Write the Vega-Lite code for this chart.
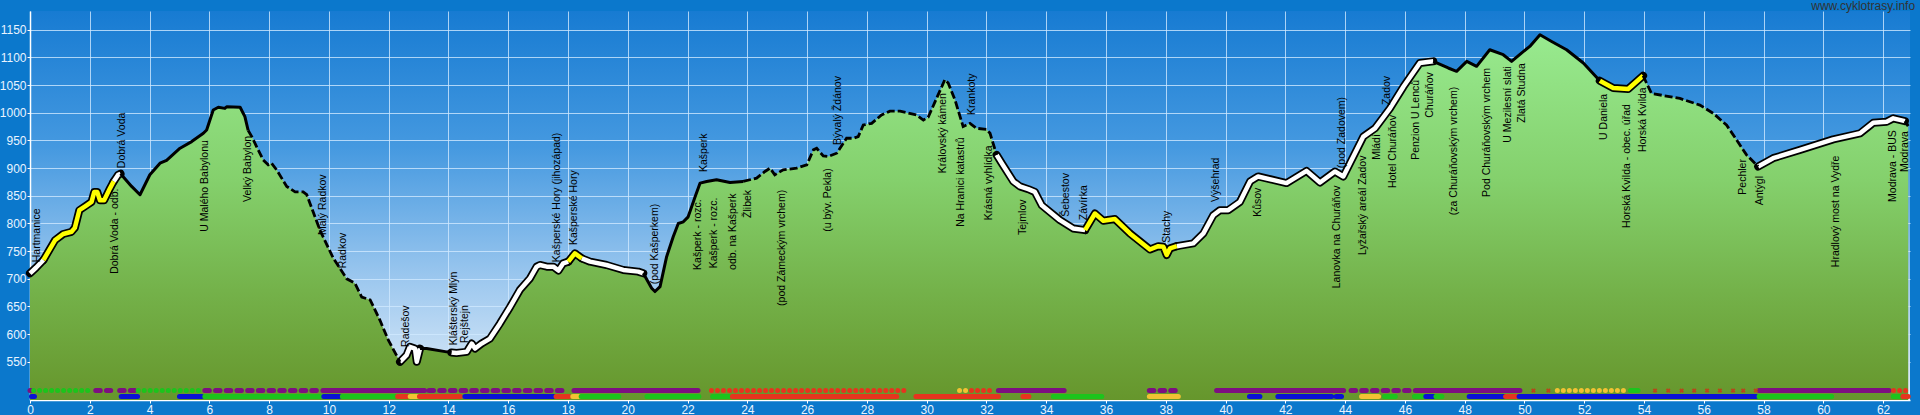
{
 "$schema": "https://vega.github.io/schema/vega-lite/v6.json",
 "width": 1880,
 "height": 389,
 "autosize": {"type": "none"},
 "padding": {"left": 30, "top": 11, "right": 10, "bottom": 15},
 "background": "#0b78cc",
 "config": {
  "font": "Liberation Sans",
  "view": {"stroke": null, "fill": {"gradient": "linear", "x1": 0, "y1": 0, "x2": 0, "y2": 1, "stops": [{"offset": 0, "color": "#177bd2"}, {"offset": 0.35, "color": "#4599e0"}, {"offset": 0.7, "color": "#9fc9ef"}, {"offset": 1, "color": "#e2eef9"}]}},
  "axis": {"domainColor": "#ffffff", "domainWidth": 1.5, "tickColor": "#ffffff", "tickSize": 3, "labelColor": "#e8f4ff", "labelFontSize": 12, "labelFont": "Liberation Sans", "gridColor": "#d0e8ff", "gridOpacity": 0.8, "gridWidth": 1, "title": null, "labelOverlap": false, "labelFlush": false, "format": "d"}
 },
 "datasets": {
  "profile": [
   {"k":0.00,"e":710,"s":1,"t":"w"},{"k":0.20,"e":720,"s":1,"t":"w"},{"k":0.45,"e":734,"s":1,"t":"w"},
   {"k":0.45,"e":734,"s":2,"t":"y"},{"k":0.84,"e":770,"s":2,"t":"y"},{"k":1.11,"e":781,"s":2,"t":"y"},{"k":1.39,"e":785,"s":2,"t":"y"},{"k":1.50,"e":792,"s":2,"t":"y"},{"k":1.65,"e":824,"s":2,"t":"y"},{"k":1.87,"e":832,"s":2,"t":"y"},{"k":2.06,"e":839,"s":2,"t":"y"},{"k":2.15,"e":857,"s":2,"t":"y"},{"k":2.25,"e":857,"s":2,"t":"y"},{"k":2.34,"e":842,"s":2,"t":"y"},{"k":2.48,"e":842,"s":2,"t":"y"},{"k":2.68,"e":864,"s":2,"t":"y"},{"k":2.80,"e":876,"s":2,"t":"y"},
   {"k":2.80,"e":876,"s":3,"t":"w"},{"k":2.95,"e":888,"s":3,"t":"w"},{"k":3.03,"e":890,"s":3,"t":"w"},
   {"k":3.03,"e":890,"s":4,"t":"s"},{"k":3.40,"e":867,"s":4,"t":"s"},{"k":3.68,"e":852,"s":4,"t":"s"},{"k":4.01,"e":888,"s":4,"t":"s"},{"k":4.35,"e":909,"s":4,"t":"s"},{"k":4.57,"e":914,"s":4,"t":"s"},{"k":5.02,"e":936,"s":4,"t":"s"},{"k":5.41,"e":948,"s":4,"t":"s"},{"k":5.80,"e":963,"s":4,"t":"s"},{"k":5.91,"e":969,"s":4,"t":"s"},{"k":6.13,"e":1005,"s":4,"t":"s"},{"k":6.30,"e":1010,"s":4,"t":"s"},{"k":6.52,"e":1008,"s":4,"t":"s"},{"k":6.58,"e":1011,"s":4,"t":"s"},{"k":7.03,"e":1010,"s":4,"t":"s"},{"k":7.19,"e":993,"s":4,"t":"s"},{"k":7.30,"e":968,"s":4,"t":"s"},
   {"k":7.30,"e":968,"s":5,"t":"d"},{"k":7.42,"e":957,"s":5,"t":"d"},{"k":7.58,"e":939,"s":5,"t":"d"},{"k":7.80,"e":915,"s":5,"t":"d"},{"k":7.97,"e":906,"s":5,"t":"d"},{"k":8.08,"e":909,"s":5,"t":"d"},{"k":8.25,"e":897,"s":5,"t":"d"},{"k":8.59,"e":867,"s":5,"t":"d"},{"k":8.87,"e":857,"s":5,"t":"d"},{"k":9.14,"e":857,"s":5,"t":"d"},{"k":9.26,"e":852,"s":5,"t":"d"},{"k":9.70,"e":788,"s":5,"t":"d"},{"k":10.15,"e":737,"s":5,"t":"d"},{"k":10.60,"e":700,"s":5,"t":"d"},{"k":10.87,"e":692,"s":5,"t":"d"},{"k":11.10,"e":667,"s":5,"t":"d"},{"k":11.38,"e":662,"s":5,"t":"d"},{"k":11.71,"e":625,"s":5,"t":"d"},{"k":11.99,"e":589,"s":5,"t":"d"},{"k":12.38,"e":550,"s":5,"t":"d"},
   {"k":12.38,"e":550,"s":6,"t":"w"},{"k":12.60,"e":562,"s":6,"t":"w"},{"k":12.71,"e":577,"s":6,"t":"w"},{"k":12.88,"e":574,"s":6,"t":"w"},{"k":12.94,"e":550,"s":6,"t":"w"},{"k":13.05,"e":574,"s":6,"t":"w"},
   {"k":13.05,"e":574,"s":7,"t":"s"},{"k":13.27,"e":574,"s":7,"t":"s"},{"k":13.94,"e":568,"s":7,"t":"s"},{"k":14.10,"e":567,"s":7,"t":"s"},
   {"k":14.10,"e":567,"s":8,"t":"w"},{"k":14.27,"e":566,"s":8,"t":"w"},{"k":14.61,"e":568,"s":8,"t":"w"},{"k":14.78,"e":583,"s":8,"t":"w"},{"k":14.89,"e":574,"s":8,"t":"w"},{"k":15.11,"e":583,"s":8,"t":"w"},{"k":15.39,"e":592,"s":8,"t":"w"},{"k":15.72,"e":619,"s":8,"t":"w"},{"k":16.06,"e":649,"s":8,"t":"w"},{"k":16.39,"e":680,"s":8,"t":"w"},{"k":16.73,"e":701,"s":8,"t":"w"},{"k":16.95,"e":722,"s":8,"t":"w"},{"k":17.06,"e":725,"s":8,"t":"w"},{"k":17.29,"e":722,"s":8,"t":"w"},{"k":17.51,"e":722,"s":8,"t":"w"},{"k":17.68,"e":715,"s":8,"t":"w"},{"k":17.84,"e":728,"s":8,"t":"w"},{"k":18.01,"e":731,"s":8,"t":"w"},
   {"k":18.01,"e":731,"s":9,"t":"y"},{"k":18.23,"e":746,"s":9,"t":"y"},{"k":18.46,"e":737,"s":9,"t":"y"},
   {"k":18.46,"e":737,"s":10,"t":"w"},{"k":18.74,"e":731,"s":10,"t":"w"},{"k":19.29,"e":725,"s":10,"t":"w"},{"k":19.85,"e":716,"s":10,"t":"w"},{"k":20.35,"e":713,"s":10,"t":"w"},{"k":20.52,"e":710,"s":10,"t":"w"},
   {"k":20.52,"e":710,"s":11,"t":"s"},{"k":20.80,"e":683,"s":11,"t":"s"},{"k":20.91,"e":677,"s":11,"t":"s"},{"k":21.08,"e":686,"s":11,"t":"s"},{"k":21.30,"e":740,"s":11,"t":"s"},{"k":21.52,"e":776,"s":11,"t":"s"},{"k":21.69,"e":800,"s":11,"t":"s"},{"k":21.86,"e":803,"s":11,"t":"s"},{"k":22.02,"e":812,"s":11,"t":"s"},{"k":22.25,"e":848,"s":11,"t":"s"},{"k":22.42,"e":873,"s":11,"t":"s"},{"k":22.64,"e":876,"s":11,"t":"s"},{"k":22.97,"e":879,"s":11,"t":"s"},{"k":23.42,"e":874,"s":11,"t":"s"},{"k":23.86,"e":876,"s":11,"t":"s"},
   {"k":23.86,"e":876,"s":12,"t":"d"},{"k":24.31,"e":882,"s":12,"t":"d"},{"k":24.59,"e":894,"s":12,"t":"d"},{"k":24.76,"e":900,"s":12,"t":"d"},{"k":24.92,"e":888,"s":12,"t":"d"},{"k":25.20,"e":897,"s":12,"t":"d"},{"k":25.65,"e":900,"s":12,"t":"d"},{"k":25.99,"e":906,"s":12,"t":"d"},{"k":26.21,"e":933,"s":12,"t":"d"},{"k":26.32,"e":936,"s":12,"t":"d"},{"k":26.54,"e":922,"s":12,"t":"d"},{"k":26.71,"e":921,"s":12,"t":"d"},{"k":26.99,"e":927,"s":12,"t":"d"},{"k":27.32,"e":954,"s":12,"t":"d"},{"k":27.55,"e":954,"s":12,"t":"d"},{"k":27.71,"e":957,"s":12,"t":"d"},{"k":27.88,"e":978,"s":12,"t":"d"},{"k":28.16,"e":981,"s":12,"t":"d"},{"k":28.49,"e":996,"s":12,"t":"d"},{"k":28.77,"e":1003,"s":12,"t":"d"},{"k":29.11,"e":1003,"s":12,"t":"d"},{"k":29.66,"e":996,"s":12,"t":"d"},{"k":29.89,"e":987,"s":12,"t":"d"},{"k":30.05,"e":992,"s":12,"t":"d"},{"k":30.33,"e":1026,"s":12,"t":"d"},{"k":30.61,"e":1060,"s":12,"t":"d"},{"k":30.72,"e":1054,"s":12,"t":"d"},{"k":30.95,"e":1023,"s":12,"t":"d"},{"k":31.22,"e":975,"s":12,"t":"d"},{"k":31.45,"e":981,"s":12,"t":"d"},{"k":31.67,"e":972,"s":12,"t":"d"},{"k":32.01,"e":970,"s":12,"t":"d"},{"k":32.12,"e":963,"s":12,"t":"d"},{"k":32.34,"e":924,"s":12,"t":"d"},
   {"k":32.34,"e":924,"s":13,"t":"w"},{"k":32.51,"e":909,"s":13,"t":"w"},{"k":32.90,"e":876,"s":13,"t":"w"},{"k":33.12,"e":867,"s":13,"t":"w"},{"k":33.40,"e":862,"s":13,"t":"w"},{"k":33.62,"e":857,"s":13,"t":"w"},{"k":33.85,"e":833,"s":13,"t":"w"},{"k":34.46,"e":806,"s":13,"t":"w"},{"k":34.90,"e":791,"s":13,"t":"w"},{"k":35.30,"e":788,"s":13,"t":"w"},
   {"k":35.30,"e":788,"s":14,"t":"y"},{"k":35.63,"e":818,"s":14,"t":"y"},{"k":35.91,"e":805,"s":14,"t":"y"},{"k":36.30,"e":808,"s":14,"t":"y"},{"k":36.80,"e":782,"s":14,"t":"y"},{"k":37.47,"e":753,"s":14,"t":"y"},{"k":37.75,"e":759,"s":14,"t":"y"},{"k":37.92,"e":758,"s":14,"t":"y"},{"k":38.03,"e":743,"s":14,"t":"y"},{"k":38.14,"e":755,"s":14,"t":"y"},{"k":38.37,"e":759,"s":14,"t":"y"},
   {"k":38.37,"e":759,"s":15,"t":"w"},{"k":38.92,"e":764,"s":15,"t":"w"},{"k":39.26,"e":782,"s":15,"t":"w"},{"k":39.59,"e":815,"s":15,"t":"w"},{"k":39.81,"e":824,"s":15,"t":"w"},{"k":40.09,"e":824,"s":15,"t":"w"},{"k":40.48,"e":839,"s":15,"t":"w"},{"k":40.82,"e":876,"s":15,"t":"w"},{"k":41.09,"e":885,"s":15,"t":"w"},{"k":42.04,"e":873,"s":15,"t":"w"},{"k":42.71,"e":895,"s":15,"t":"w"},{"k":43.16,"e":874,"s":15,"t":"w"},{"k":43.66,"e":894,"s":15,"t":"w"},{"k":43.94,"e":885,"s":15,"t":"w"},{"k":44.61,"e":957,"s":15,"t":"w"},{"k":45.00,"e":972,"s":15,"t":"w"},{"k":45.50,"e":1008,"s":15,"t":"w"},{"k":45.95,"e":1047,"s":15,"t":"w"},{"k":46.50,"e":1090,"s":15,"t":"w"},{"k":46.95,"e":1093,"s":15,"t":"w"},
   {"k":46.95,"e":1093,"s":16,"t":"s"},{"k":47.45,"e":1081,"s":16,"t":"s"},{"k":47.73,"e":1075,"s":16,"t":"s"},{"k":48.07,"e":1093,"s":16,"t":"s"},{"k":48.40,"e":1084,"s":16,"t":"s"},{"k":48.84,"e":1114,"s":16,"t":"s"},{"k":49.29,"e":1105,"s":16,"t":"s"},{"k":49.57,"e":1093,"s":16,"t":"s"},{"k":49.90,"e":1108,"s":16,"t":"s"},{"k":50.18,"e":1120,"s":16,"t":"s"},{"k":50.52,"e":1141,"s":16,"t":"s"},{"k":50.91,"e":1129,"s":16,"t":"s"},{"k":51.41,"e":1114,"s":16,"t":"s"},{"k":51.97,"e":1090,"s":16,"t":"s"},{"k":52.52,"e":1058,"s":16,"t":"s"},
   {"k":52.52,"e":1058,"s":17,"t":"y"},{"k":52.97,"e":1045,"s":17,"t":"y"},{"k":53.47,"e":1043,"s":17,"t":"y"},{"k":53.97,"e":1067,"s":17,"t":"y"},
   {"k":53.97,"e":1067,"s":18,"t":"d"},{"k":54.25,"e":1035,"s":18,"t":"d"},{"k":55.20,"e":1026,"s":18,"t":"d"},{"k":55.87,"e":1014,"s":18,"t":"d"},{"k":56.32,"e":999,"s":18,"t":"d"},{"k":56.76,"e":978,"s":18,"t":"d"},{"k":57.10,"e":951,"s":18,"t":"d"},{"k":57.43,"e":924,"s":18,"t":"d"},{"k":57.82,"e":903,"s":18,"t":"d"},
   {"k":57.82,"e":903,"s":19,"t":"w"},{"k":58.32,"e":918,"s":19,"t":"w"},{"k":59.22,"e":933,"s":19,"t":"w"},{"k":60.33,"e":952,"s":19,"t":"w"},{"k":61.23,"e":963,"s":19,"t":"w"},{"k":61.67,"e":982,"s":19,"t":"w"},{"k":62.12,"e":984,"s":19,"t":"w"},{"k":62.34,"e":990,"s":19,"t":"w"},{"k":62.73,"e":985,"s":19,"t":"w"},
   {"k":62.73,"e":985,"s":20,"t":"s"},{"k":62.84,"e":976,"s":20,"t":"s"}
  ],
  "labels": [
   {"k":0.23,"ly":730,"n":"Hartmanice"},{"k":2.84,"ly":709,"n":"Dobrá Voda - odb."},{"k":3.08,"ly":900,"n":"Dobrá Voda"},{"k":5.85,"ly":785,"n":"U Malého Babylonu"},{"k":7.29,"ly":839,"n":"Velký Babylon"},{"k":9.80,"ly":779,"n":"Malý Radkov"},{"k":10.47,"ly":719,"n":"Radkov"},{"k":12.58,"ly":577,"n":"Radešov"},{"k":14.19,"ly":580,"n":"Klášterský Mlýn"},{"k":14.55,"ly":584,"n":"Rejštejn"},{"k":17.63,"ly":730,"n":"Kašperské Hory (jihozápad)"},{"k":18.20,"ly":761,"n":"Kašperské Hory"},{"k":20.91,"ly":690,"n":"(pod Kašperkem)"},{"k":22.55,"ly":893,"n":"Kašperk"},{"k":22.35,"ly":716,"n":"Kašperk - rozc."},{"k":22.88,"ly":719,"n":"Kašperk - rozc."},{"k":23.52,"ly":716,"n":"odb. na Kašperk"},{"k":24.02,"ly":810,"n":"Žlibek"},{"k":25.16,"ly":651,"n":"(pod Zámeckým vrchem)"},{"k":26.70,"ly":785,"n":"(u býv. Pekla)"},{"k":27.03,"ly":942,"n":"Bývalý Ždánov"},{"k":30.55,"ly":891,"n":"Královský kámen"},{"k":31.15,"ly":794,"n":"Na Hranici katastrů"},{"k":31.52,"ly":996,"n":"Krankoty"},{"k":32.08,"ly":806,"n":"Krásná vyhlídka"},{"k":33.22,"ly":779,"n":"Tejmlov"},{"k":34.66,"ly":812,"n":"Šebestov"},{"k":35.26,"ly":806,"n":"Závírka"},{"k":38.04,"ly":765,"n":"Stachy"},{"k":39.68,"ly":839,"n":"Výšehrad"},{"k":41.08,"ly":812,"n":"Kůsov"},{"k":43.73,"ly":683,"n":"Lanovka na Churáňov"},{"k":43.89,"ly":900,"n":"(pod Zadovem)"},{"k":44.60,"ly":743,"n":"Lyžařský areál Zadov"},{"k":45.07,"ly":915,"n":"Mládí"},{"k":45.40,"ly":1014,"n":"Zadov"},{"k":45.60,"ly":864,"n":"Hotel Churáňov"},{"k":46.37,"ly":915,"n":"Penzion U Lenců"},{"k":46.84,"ly":991,"n":"Churáňov"},{"k":47.64,"ly":815,"n":"(za Churáňovským vrchem)"},{"k":48.75,"ly":848,"n":"Pod Churáňovským vrchem"},{"k":49.45,"ly":946,"n":"U Mezilesní slati"},{"k":49.92,"ly":982,"n":"Zlatá Studna"},{"k":52.66,"ly":951,"n":"U Daniela"},{"k":53.43,"ly":792,"n":"Horská Kvilda - obec. úřad"},{"k":53.96,"ly":929,"n":"Horská Kvilda"},{"k":57.31,"ly":852,"n":"Pechler"},{"k":57.88,"ly":833,"n":"Antýgl"},{"k":60.42,"ly":721,"n":"Hradlový most na Vydře"},{"k":62.33,"ly":839,"n":"Modrava - BUS"},{"k":62.73,"ly":893,"n":"Modrava"}
  ],
  "strips": [
   {"r":1,"a":0.0,"b":0.03,"c":"purple","p":"solid"},
   {"r":1,"a":0.12,"b":2.05,"c":"green","p":"dot"},
   {"r":1,"a":2.2,"b":2.7,"c":"purple","p":"oval"},
   {"r":1,"a":3.0,"b":3.5,"c":"purple","p":"oval"},
   {"r":1,"a":3.62,"b":5.7,"c":"green","p":"dot"},
   {"r":1,"a":5.85,"b":9.7,"c":"purple","p":"oval"},
   {"r":1,"a":9.8,"b":13.2,"c":"purple","p":"solid"},
   {"r":1,"a":13.35,"b":17.9,"c":"purple","p":"oval"},
   {"r":1,"a":18.2,"b":22.35,"c":"purple","p":"solid"},
   {"r":1,"a":22.8,"b":29.3,"c":"red","p":"dot"},
   {"r":1,"a":31.1,"b":31.35,"c":"orange","p":"dot"},
   {"r":1,"a":31.5,"b":32.2,"c":"red","p":"dot"},
   {"r":1,"a":32.4,"b":34.6,"c":"purple","p":"solid"},
   {"r":1,"a":37.45,"b":38.4,"c":"purple","p":"oval"},
   {"r":1,"a":39.7,"b":43.95,"c":"purple","p":"solid"},
   {"r":1,"a":44.2,"b":46.25,"c":"purple","p":"oval"},
   {"r":1,"a":46.35,"b":49.85,"c":"purple","p":"solid"},
   {"r":1,"a":51.1,"b":53.45,"c":"orange","p":"dot"},
   {"r":1,"a":53.55,"b":53.8,"c":"green","p":"solid"},
   {"r":1,"a":57.85,"b":62.2,"c":"purple","p":"solid"},
   {"r":1,"a":62.35,"b":62.8,"c":"red","p":"dot"},
   {"r":2,"a":0.05,"b":0.15,"c":"blue","p":"solid"},
   {"r":2,"a":3.05,"b":3.6,"c":"blue","p":"solid"},
   {"r":2,"a":5.0,"b":5.75,"c":"blue","p":"solid"},
   {"r":2,"a":5.85,"b":9.7,"c":"green","p":"solid"},
   {"r":2,"a":9.83,"b":10.35,"c":"blue","p":"solid"},
   {"r":2,"a":10.45,"b":12.22,"c":"green","p":"solid"},
   {"r":2,"a":12.3,"b":12.62,"c":"red","p":"solid"},
   {"r":2,"a":12.72,"b":12.95,"c":"orange","p":"solid"},
   {"r":2,"a":13.03,"b":14.4,"c":"red","p":"solid"},
   {"r":2,"a":14.55,"b":17.52,"c":"blue","p":"solid"},
   {"r":2,"a":17.6,"b":18.03,"c":"red","p":"solid"},
   {"r":2,"a":18.16,"b":18.36,"c":"orange","p":"solid"},
   {"r":2,"a":18.44,"b":19.7,"c":"green","p":"solid"},
   {"r":2,"a":20.64,"b":22.38,"c":"green","p":"solid"},
   {"r":2,"a":22.84,"b":23.38,"c":"green","p":"solid"},
   {"r":2,"a":23.5,"b":29.0,"c":"red","p":"solid"},
   {"r":2,"a":29.64,"b":32.4,"c":"red","p":"solid"},
   {"r":2,"a":33.22,"b":33.42,"c":"red","p":"solid"},
   {"r":2,"a":34.24,"b":35.86,"c":"green","p":"solid"},
   {"r":2,"a":37.45,"b":38.42,"c":"orange","p":"solid"},
   {"r":2,"a":40.8,"b":41.15,"c":"blue","p":"solid"},
   {"r":2,"a":41.75,"b":43.55,"c":"blue","p":"solid"},
   {"r":2,"a":43.7,"b":43.88,"c":"blue","p":"solid"},
   {"r":2,"a":44.55,"b":45.12,"c":"orange","p":"solid"},
   {"r":2,"a":45.32,"b":45.68,"c":"green","p":"solid"},
   {"r":2,"a":46.32,"b":46.64,"c":"green","p":"solid"},
   {"r":2,"a":46.7,"b":46.96,"c":"blue","p":"solid"},
   {"r":2,"a":47.04,"b":47.24,"c":"green","p":"solid"},
   {"r":2,"a":48.15,"b":49.33,"c":"blue","p":"solid"},
   {"r":2,"a":49.37,"b":49.78,"c":"red","p":"solid"},
   {"r":2,"a":49.82,"b":57.75,"c":"blue","p":"solid"},
   {"r":2,"a":57.85,"b":60.28,"c":"green","p":"solid"},
   {"r":2,"a":62.34,"b":62.56,"c":"green","p":"solid"},
   {"r":2,"a":62.66,"b":62.84,"c":"red","p":"solid"}
  ],
  "crosses": [
   {"k":50.30},{"k":50.80},{"k":54.37},{"k":54.81},{"k":55.26},{"k":55.68},{"k":56.11},{"k":56.54},{"k":56.98},{"k":57.32},{"k":57.74}
  ],
  "brand": [{"t":"www.cyklotrasy.info"}]
 },
 "layer": [
  {
   "data": {"name": "profile"},
   "mark": {"type": "area", "color": {"gradient": "linear", "x1": 0, "y1": 0, "x2": 0, "y2": 1, "stops": [{"offset": 0, "color": "#98ea8f"}, {"offset": 0.4, "color": "#84d06c"}, {"offset": 0.7, "color": "#74b24a"}, {"offset": 1, "color": "#66962c"}]}},
   "encoding": {
    "x": {"field": "k", "type": "quantitative", "scale": {"domain": [0, 62.9], "nice": false, "zero": false}, "axis": {"values": [0,2,4,6,8,10,12,14,16,18,20,22,24,26,28,30,32,34,36,38,40,42,44,46,48,50,52,54,56,58,60,62], "tickCount": 64, "labelPadding": 1, "labelOverlap": false, "labelFlush": false, "format": "d"}},
    "y": {"field": "e", "type": "quantitative", "scale": {"domain": [481, 1184], "nice": false, "zero": false}, "axis": {"values": [550,600,650,700,750,800,850,900,950,1000,1050,1100,1150], "tickCount": 30, "labelPadding": 1, "labelOverlap": false, "format": "d"}},
    "y2": {"datum": 481}
   }
  },
  {
   "data": {"name": "profile"},
   "transform": [{"filter": "datum.t === 'w' || datum.t === 'y'"}],
   "mark": {"type": "line", "stroke": "#000000", "strokeWidth": 8, "strokeJoin": "round", "strokeCap": "round"},
   "encoding": {"x": {"field": "k", "type": "quantitative"}, "y": {"field": "e", "type": "quantitative"}, "detail": {"field": "s"}}
  },
  {
   "data": {"name": "profile"},
   "transform": [{"filter": "datum.t === 'w'"}],
   "mark": {"type": "line", "stroke": "#ffffff", "strokeWidth": 4.5, "strokeJoin": "round"},
   "encoding": {"x": {"field": "k", "type": "quantitative"}, "y": {"field": "e", "type": "quantitative"}, "detail": {"field": "s"}}
  },
  {
   "data": {"name": "profile"},
   "transform": [{"filter": "datum.t === 'y'"}],
   "mark": {"type": "line", "stroke": "#ffff00", "strokeWidth": 4.5, "strokeJoin": "round"},
   "encoding": {"x": {"field": "k", "type": "quantitative"}, "y": {"field": "e", "type": "quantitative"}, "detail": {"field": "s"}}
  },
  {
   "data": {"name": "profile"},
   "transform": [{"filter": "datum.t === 's'"}],
   "mark": {"type": "line", "stroke": "#000000", "strokeWidth": 3, "strokeJoin": "round"},
   "encoding": {"x": {"field": "k", "type": "quantitative"}, "y": {"field": "e", "type": "quantitative"}, "detail": {"field": "s"}}
  },
  {
   "data": {"name": "profile"},
   "transform": [{"filter": "datum.t === 'd'"}],
   "mark": {"type": "line", "stroke": "#000000", "strokeWidth": 2.8, "strokeDash": [8, 3]},
   "encoding": {"x": {"field": "k", "type": "quantitative"}, "y": {"field": "e", "type": "quantitative"}, "detail": {"field": "s"}}
  },
  {
   "data": {"name": "strips"},
   "transform": [{"filter": "datum.r === 1"}],
   "mark": {"type": "rule", "strokeWidth": 5, "strokeCap": "round"},
   "encoding": {
    "x": {"field": "a", "type": "quantitative"}, "x2": {"field": "b"}, "y": {"datum": 498},
    "color": {"field": "c", "type": "nominal", "scale": {"domain": ["purple","green","blue","red","orange"], "range": ["#7d0f80","#1cc41c","#0a12d6","#e6341e","#f2c233"]}, "legend": null},
    "strokeDash": {"field": "p", "type": "nominal", "scale": {"domain": ["solid","dot","oval"], "range": [[1,0],[0.01,6],[4.5,6.2]]}, "legend": null}
   }
  },
  {
   "data": {"name": "strips"},
   "transform": [{"filter": "datum.r === 2"}],
   "mark": {"type": "rule", "strokeWidth": 5, "strokeCap": "round"},
   "encoding": {
    "x": {"field": "a", "type": "quantitative"}, "x2": {"field": "b"}, "y": {"datum": 487.5},
    "color": {"field": "c", "type": "nominal", "legend": null},
    "strokeDash": {"field": "p", "type": "nominal", "legend": null}
   }
  },
  {
   "data": {"name": "crosses"},
   "mark": {"type": "point", "shape": "cross", "angle": 45, "size": 22, "filled": true, "color": "#b8461a", "opacity": 1},
   "encoding": {"x": {"field": "k", "type": "quantitative"}, "y": {"datum": 498}}
  },
  {
   "data": {"name": "labels"},
   "mark": {"type": "text", "angle": 270, "align": "left", "baseline": "middle", "fontSize": 10.5, "font": "Liberation Sans", "color": "#000000"},
   "encoding": {"x": {"field": "k", "type": "quantitative"}, "y": {"field": "ly", "type": "quantitative"}, "text": {"field": "n"}}
  },
  {
   "data": {"name": "brand"},
   "mark": {"type": "text", "align": "right", "baseline": "alphabetic", "fontSize": 12, "font": "Liberation Sans", "color": "#333333", "clip": false},
   "encoding": {"x": {"datum": 63.07}, "y": {"datum": 1186}, "text": {"field": "t"}}
  }
 ]
}
